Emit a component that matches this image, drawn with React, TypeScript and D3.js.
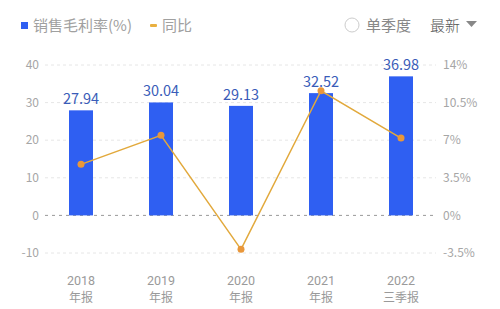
import { useRef, useEffect } from 'react'
import * as d3 from 'd3'

const CATEGORIES = ['2018|年报', '2019|年报', '2020|年报', '2021|年报', '2022|三季报']
const MARGIN_VALUES = [27.94, 30.04, 29.13, 32.52, 36.98]
const YOY_VALUES = [4.75, 7.45, -3.16, 11.6, 7.2]
const LEFT_TICKS = [-10, 0, 10, 20, 30, 40]
const RIGHT_TICKS = [-3.5, 0, 3.5, 7, 10.5, 14]

const W = 500
const H = 309
const FONT = '"Noto Sans CJK SC", "Noto Sans", sans-serif'

export default function App() {
  const svgRef = useRef<SVGSVGElement>(null)

  useEffect(() => {
    if (!svgRef.current) return
    const el = d3.select(svgRef.current)
    el.selectAll('*').remove()

    const x = d3.scaleBand().domain(CATEGORIES).range([41, 441]).paddingInner(0.7).paddingOuter(0.35)
    const yL = d3.scaleLinear().domain([-10, 40]).range([253, 65])
    const yR = d3.scaleLinear().domain([-3.5, 14]).range([253, 65])
    const cx = (d: string) => (x(d) ?? 0) + x.bandwidth() / 2

    // Gridlines
    el.append('g')
      .selectAll('line')
      .data(LEFT_TICKS)
      .join('line')
      .attr('x1', 45)
      .attr('x2', 436)
      .attr('y1', (d) => yL(d))
      .attr('y2', (d) => yL(d))
      .attr('stroke', (d) => (d === 0 ? '#9a9a9a' : '#e6e6e6'))
      .attr('stroke-width', 1)
      .attr('stroke-dasharray', (d) => (d === 0 ? '3,4' : '3,3'))

    // Left axis labels
    el.append('g')
      .selectAll('text')
      .data(LEFT_TICKS)
      .join('text')
      .attr('x', 39)
      .attr('y', (d) => yL(d))
      .attr('dy', '0.35em')
      .attr('text-anchor', 'end')
      .attr('font-family', FONT)
      .attr('font-size', 12)
      .attr('fill', '#a6a6a6')
      .text((d) => d)

    // Right axis labels
    el.append('g')
      .selectAll('text')
      .data(RIGHT_TICKS)
      .join('text')
      .attr('x', 443)
      .attr('y', (d) => yR(d))
      .attr('dy', '0.35em')
      .attr('font-family', FONT)
      .attr('font-size', 12)
      .attr('fill', '#a6a6a6')
      .text((d) => `${d}%`)

    // Bars
    el.append('g')
      .selectAll('rect')
      .data(CATEGORIES)
      .join('rect')
      .attr('x', (d) => x(d) ?? 0)
      .attr('width', x.bandwidth())
      .attr('y', (_, i) => yL(MARGIN_VALUES[i]))
      .attr('height', (_, i) => yL(0) - yL(MARGIN_VALUES[i]))
      .attr('fill', '#2f5ff2')

    // Bar labels
    el.append('g')
      .selectAll('text')
      .data(CATEGORIES)
      .join('text')
      .attr('x', cx)
      .attr('y', (_, i) => yL(MARGIN_VALUES[i]) - 6)
      .attr('text-anchor', 'middle')
      .attr('font-family', FONT)
      .attr('font-size', 14.5)
      .attr('fill', '#3a5cb8')
      .text((_, i) => MARGIN_VALUES[i].toFixed(2))

    // Line
    const line = d3.line<number>()
      .x((_, i) => cx(CATEGORIES[i]))
      .y((d) => yR(d))
    el.append('path')
      .datum(YOY_VALUES)
      .attr('fill', 'none')
      .attr('stroke', '#e2a93c')
      .attr('stroke-width', 1.5)
      .attr('d', line)

    el.append('g')
      .selectAll('circle')
      .data(YOY_VALUES)
      .join('circle')
      .attr('cx', (_, i) => cx(CATEGORIES[i]))
      .attr('cy', (d) => yR(d))
      .attr('r', 3.5)
      .attr('fill', '#e9973a')

    // X labels, two lines each
    const xg = el.append('g')
      .attr('font-size', 12)
      .attr('fill', '#9a9a9a')
      .attr('text-anchor', 'middle')
    xg.selectAll('text.yr')
      .data(CATEGORIES)
      .join('text')
      .attr('class', 'yr')
      .attr('font-family', 'Roboto, sans-serif')
      .attr('font-size', 12.5)
      .attr('x', cx)
      .attr('y', 285)
      .text((d) => d.split('|')[0])
    xg.selectAll('text.kind')
      .data(CATEGORIES)
      .join('text')
      .attr('class', 'kind')
      .attr('font-family', FONT)
      .attr('x', cx)
      .attr('y', 302)
      .text((d) => d.split('|')[1])

    // Legend
    const lg = el.append('g').attr('font-family', FONT).attr('font-size', 15)
    lg.append('rect').attr('x', 21).attr('y', 22).attr('width', 7).attr('height', 7).attr('fill', '#2f5ff2')
    lg.append('text').attr('x', 33).attr('y', 31).attr('fill', '#a0a0a0').text('销售毛利率(%)')
    lg.append('rect').attr('x', 150).attr('y', 24).attr('width', 7).attr('height', 3).attr('rx', 1).attr('fill', '#e9b040')
    lg.append('text').attr('x', 162).attr('y', 31).attr('fill', '#a0a0a0').text('同比')

    lg.append('circle').attr('cx', 352).attr('cy', 25).attr('r', 7).attr('fill', 'none').attr('stroke', '#ccc').attr('stroke-width', 1)
    lg.append('text').attr('x', 366).attr('y', 31).attr('fill', '#888').text('单季度')
    lg.append('text').attr('x', 430).attr('y', 31).attr('fill', '#555').attr('font-weight', 300).text('最新')
    lg.append('path').attr('d', 'M466,21 L477,21 L471.5,27 Z').attr('fill', '#888')
  }, [])

  return (
    <svg
      ref={svgRef}
      width={W}
      height={H}
      style={{ position: 'absolute', left: 0, top: 0, background: '#fff' }}
    />
  )
}
